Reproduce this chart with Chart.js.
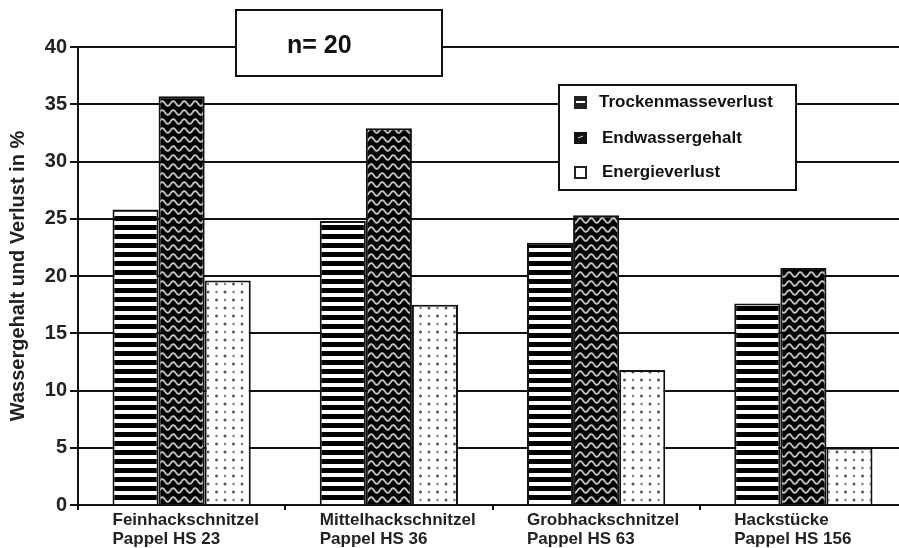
<!DOCTYPE html>
<html>
<head>
<meta charset="utf-8">
<script src="https://cdn.jsdelivr.net/npm/chart.js@4.4.0/dist/chart.umd.js"></script>
<style>
  html, body { margin: 0; padding: 0; background: #fff; overflow: hidden; }
  #wrap { width: 907px; height: 548px; }
</style>
</head>
<body>
<div id="wrap"><canvas id="chart" width="907" height="548"></canvas></div>
<script>
// data
const categories = [
  ['Feinhackschnitzel', 'Pappel HS 23'],
  ['Mittelhackschnitzel', 'Pappel HS 36'],
  ['Grobhackschnitzel', 'Pappel HS 63'],
  ['Hackstücke', 'Pappel HS 156']
];
const trockenmasseverlust = [25.8, 24.8, 22.9, 17.6];
const endwassergehalt = [35.7, 32.9, 25.3, 20.7];
const energieverlust = [19.6, 17.5, 11.8, 5.0];
const seriesNames = ['Trockenmasseverlust', 'Endwassergehalt', 'Energieverlust'];
const yTicks = [0, 5, 10, 15, 20, 25, 30, 35, 40];
const sampleNote = 'n= 20';

const FONT = '"Liberation Sans", Arial, sans-serif';

// fill patterns
function makePattern(w, h, draw) {
  const c = document.createElement('canvas');
  c.width = w; c.height = h;
  const g = c.getContext('2d');
  draw(g, w, h);
  return g.createPattern(c, 'repeat');
}

const ctxMain = document.getElementById('chart').getContext('2d');

const stripes = makePattern(9, 9, (g, w, h) => {
  g.fillStyle = '#fff';
  g.fillRect(0, 0, w, h);
  g.fillStyle = '#000';
  g.fillRect(0, 0, w, 5);
});

const waves = makePattern(11, 9, (g, w, h) => {
  g.fillStyle = '#000';
  g.fillRect(0, 0, w, h);
  g.strokeStyle = '#c4c4c4';
  g.lineWidth = 1.8;
  g.beginPath();
  for (let x = -1; x <= w + 1; x += 0.5) {
    const y = 4.5 + 2.4 * Math.sin((x / w) * Math.PI * 2);
    if (x === -1) g.moveTo(x, y); else g.lineTo(x, y);
  }
  g.stroke();
});

const dots = makePattern(17, 16, (g, w, h) => {
  g.fillStyle = '#fff';
  g.fillRect(0, 0, w, h);
  g.fillStyle = '#555';
  g.beginPath(); g.arc(4, 4, 1.5, 0, Math.PI * 2); g.fill();
  g.beginPath(); g.arc(12.5, 12, 1.5, 0, Math.PI * 2); g.fill();
  g.fillStyle = '#7a7a7a';
  g.beginPath(); g.arc(12.5, 4, 1.2, 0, Math.PI * 2); g.fill();
  g.beginPath(); g.arc(4, 12, 1.2, 0, Math.PI * 2); g.fill();
});

// boxes, legend and category labels drawn on top
const overlayPlugin = {
  id: 'overlay',
  afterDraw(chart) {
    const ctx = chart.ctx;
    const xs = chart.scales.x;
    ctx.save();

    // n= 20 box
    ctx.fillStyle = '#fff';
    ctx.fillRect(236, 10, 206, 66);
    ctx.strokeStyle = '#111';
    ctx.lineWidth = 2;
    ctx.strokeRect(236, 10, 206, 66);
    ctx.fillStyle = '#111';
    ctx.font = 'bold 25px ' + FONT;
    ctx.textBaseline = 'middle';
    ctx.textAlign = 'left';
    ctx.fillText(sampleNote, 287, 46);

    // legend box
    ctx.fillStyle = '#fff';
    ctx.fillRect(559, 85, 237, 105);
    ctx.strokeRect(559, 85, 237, 105);
    const rowsY = [102, 138, 172];
    const textX = [599, 602, 602];
    ctx.font = 'bold 17px ' + FONT;
    seriesNames.forEach((name, i) => {
      const sx = 574, sy = rowsY[i] - 6;
      ctx.lineWidth = 1.5;
      if (i === 0) {
        ctx.fillStyle = '#222';
        ctx.fillRect(sx, sy, 13, 13);
        ctx.fillStyle = '#fff';
        ctx.fillRect(sx + 2, sy + 5, 9, 2);
      } else if (i === 1) {
        ctx.fillStyle = '#111';
        ctx.fillRect(sx, sy, 13, 12);
        ctx.strokeStyle = '#ddd';
        ctx.lineWidth = 1;
        ctx.beginPath();
        ctx.moveTo(sx + 4, sy + 6);
        ctx.lineTo(sx + 9, sy + 4);
        ctx.stroke();
      } else {
        ctx.fillStyle = '#fff';
        ctx.fillRect(sx, sy, 13, 13);
        ctx.strokeStyle = '#222';
        ctx.lineWidth = 2;
        ctx.strokeRect(sx + 1, sy + 1, 11, 11);
      }
      ctx.fillStyle = '#111';
      ctx.fillText(name, textX[i], rowsY[i]);
    });

    // category labels, left aligned under each bar group
    ctx.font = 'bold 17px ' + FONT;
    ctx.fillStyle = '#222';
    ctx.textBaseline = 'top';
    categories.forEach((lines, i) => {
      const cx = xs.getPixelForValue(i);
      const half = xs.width / categories.length * 0.667 / 2;
      lines.forEach((line, j) => {
        ctx.fillText(line, cx - half, 512 + j * 19);
      });
    });
    ctx.restore();
  }
};

new Chart(ctxMain, {
  type: 'bar',
  data: {
    labels: categories.map(c => c.join(' ')),
    datasets: [
      { label: seriesNames[0], data: trockenmasseverlust, backgroundColor: stripes },
      { label: seriesNames[1], data: endwassergehalt, backgroundColor: waves },
      { label: seriesNames[2], data: energieverlust, backgroundColor: dots }
    ]
  },
  options: {
    responsive: false,
    animation: false,
    layout: { padding: { top: 47, right: 0, left: 0, bottom: 0 } },
    datasets: {
      bar: {
        borderColor: '#111',
        borderWidth: 2,
        borderSkipped: 'bottom',
        barPercentage: 1,
        categoryPercentage: 0.667
      }
    },
    plugins: {
      legend: { display: false },
      tooltip: { enabled: false }
    },
    scales: {
      x: {
        ticks: { display: false },
        grid: { drawOnChartArea: false, drawTicks: true, tickLength: 5, color: '#111', lineWidth: 2 },
        border: { display: true, color: '#111', width: 2 },
        afterFit(scale) { scale.height = 43; }
      },
      y: {
        min: 0,
        max: 40,
        afterBuildTicks(scale) { scale.ticks = yTicks.map(v => ({ value: v })); },
        ticks: {
          color: '#222',
          padding: 3,
          font: { family: FONT, size: 20, weight: 'bold' }
        },
        grid: { color: '#111', lineWidth: 2, tickLength: 8 },
        border: { display: true, color: '#111', width: 2 },
        title: {
          display: true,
          text: 'Wassergehalt und Verlust in %',
          color: '#222',
          padding: { top: 6, bottom: 0 },
          font: { family: FONT, size: 20, weight: 'bold' }
        },
        afterFit(scale) { scale.width = 78; }
      }
    }
  },
  plugins: [overlayPlugin]
});
</script>
</body>
</html>
